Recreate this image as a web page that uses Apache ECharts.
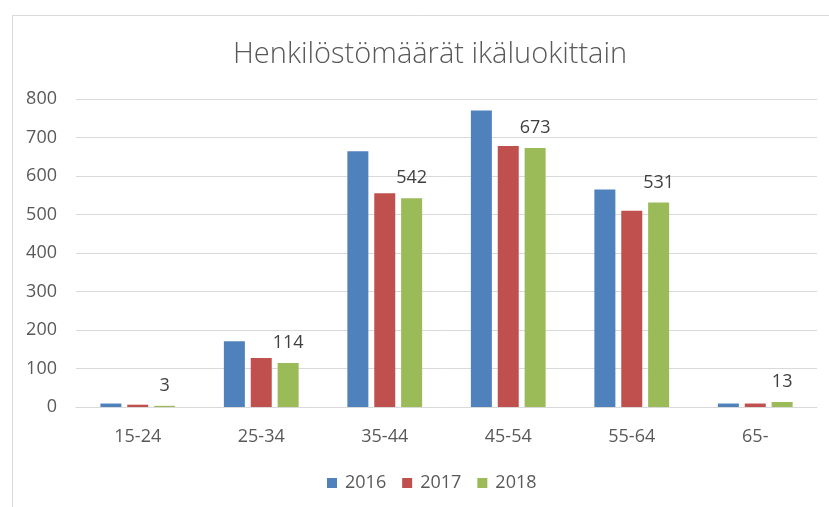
<!DOCTYPE html>
<html>
<head>
<meta charset="utf-8">
<script src="https://cdn.jsdelivr.net/npm/echarts@6/dist/echarts.min.js"></script>
<style>html,body{margin:0;padding:0;background:#fff;}#c{width:829px;height:507px;}</style>
</head>
<body>
<div id="c"></div>
<script>
var title = 'Henkilöstömäärät ikäluokittain';
var categories = ['15-24', '25-34', '35-44', '45-54', '55-64', '65-'];
var seriesNames = ['2016', '2017', '2018'];
var values2016 = [9, 171, 664, 770, 565, 9];
var values2017 = [6, 127, 555, 678, 510, 9];
var values2018 = [3, 114, 542, 673, 531, 13];
var yTicks = { min: 0, max: 800, interval: 100 };
var colors = ['#4f81bd', '#c0504d', '#9bbb59'];
var font = '"Open Sans", "Liberation Sans", sans-serif';

var chart = echarts.init(document.getElementById('c'), null, { renderer: 'canvas' });
var allValues = [values2016, values2017, values2018];
chart.setOption({
  animation: false,
  color: colors,
  graphic: [{
    type: 'rect', left: 10, top: 13, silent: true,
    shape: { width: 840, height: 520 },
    style: { fill: 'none', stroke: '#d9d9d9', lineWidth: 1 }
  }],
  title: {
    text: title, left: 228, top: 35,
    textStyle: { fontFamily: font, fontWeight: 300, fontSize: 29, color: '#595959' }
  },
  legend: {
    data: seriesNames, left: 322, top: 469, itemWidth: 10, itemHeight: 10, itemGap: 16,
    icon: 'rect',
    textStyle: { fontFamily: font, fontSize: 18, color: '#595959', padding: [0, 0, 0, 3] }
  },
  grid: { left: 76, right: 12, top: 99, bottom: 100, containLabel: false },
  xAxis: {
    type: 'category', data: categories,
    axisLine: { lineStyle: { color: '#d9d9d9', width: 1 } },
    axisTick: { show: false },
    axisLabel: { fontFamily: font, fontSize: 18, color: '#595959', margin: 21 }
  },
  yAxis: {
    type: 'value', min: yTicks.min, max: yTicks.max, interval: yTicks.interval,
    axisLine: { show: false }, axisTick: { show: false },
    splitLine: { lineStyle: { color: '#d9d9d9', width: 1 } },
    axisLabel: { fontFamily: font, fontSize: 18, color: '#595959', margin: 19 }
  },
  series: seriesNames.map(function (n, i) {
    return {
      name: n, type: 'bar', data: allValues[i],
      barWidth: 21, barGap: '28%', barCategoryGap: '37%',
      label: i === 2 ? {
        show: true, position: 'top', distance: 11,
        fontFamily: font, fontSize: 18, color: '#404040'
      } : { show: false }
    };
  })
});
</script>
</body>
</html>
